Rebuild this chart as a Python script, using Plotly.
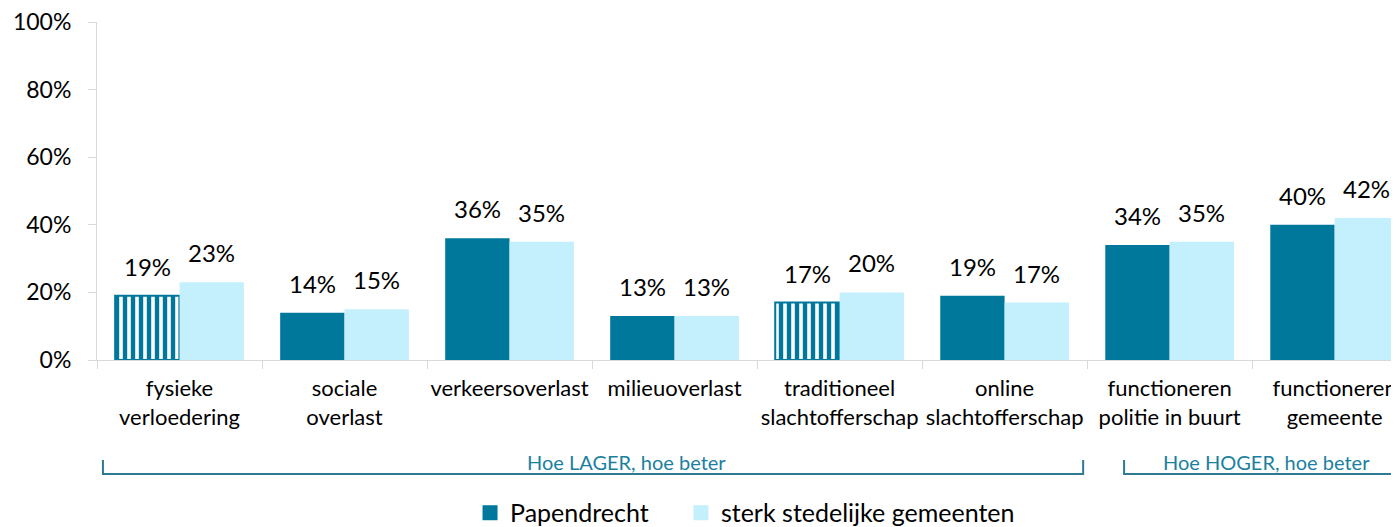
import plotly.graph_objects as go

categories = ["fysieke<br>verloedering", "sociale<br>overlast", "verkeersoverlast", "milieuoverlast",
              "traditioneel<br>slachtofferschap", "online<br>slachtofferschap",
              "functioneren<br>politie in buurt", "functioneren<br>gemeente"]
papendrecht = [19, 14, 36, 13, 17, 19, 34, 40]
sterk = [23, 15, 35, 13, 20, 17, 35, 42]
hatched = [True, False, False, False, True, False, False, False]
series_names = ["Papendrecht", "sterk stedelijke gemeenten"]
ytick_vals = [0, 20, 40, 60, 80, 100]

DARK = "#00789c"
LIGHT = "#c4effd"
TEAL = "#1b7fa0"
FONT = "Lato, Carlito, 'Noto Sans', sans-serif"
BAR_W = 0.39  # width of one bar in category units (1 - bargap) / 2

fig = go.Figure()
fig.add_trace(go.Bar(
    x=categories, y=papendrecht, name=series_names[0], showlegend=False,
    marker=dict(color=DARK,
                line=dict(color=DARK, width=[2 if h else 0 for h in hatched]),
                pattern=dict(shape=[("|" if h else "") for h in hatched],
                             fgcolor=DARK, bgcolor="white", fillmode="replace",
                             size=8, solidity=0.55)),
))
fig.add_trace(go.Bar(
    x=categories, y=sterk, name=series_names[1], showlegend=False,
    marker=dict(color=LIGHT, line=dict(width=0)),
))
# value labels above the bars
for s, vals in enumerate([papendrecht, sterk]):
    off = (-0.5 + s) * BAR_W
    for i, v in enumerate(vals):
        fig.add_annotation(x=i + off, y=v, xref="x", yref="y", text=f"{v}%",
                           showarrow=False, yanchor="bottom", yshift=13,
                           font=dict(size=24, color="black", family=FONT))

# legend entries, each in its own legend box
legend_x = [0.2865, 0.4485]
for i, (nm, col) in enumerate(zip(series_names, [DARK, LIGHT])):
    fig.add_trace(go.Scatter(x=[None], y=[None], mode="markers", name=nm,
                             legend="legend" if i == 0 else "legend2",
                             marker=dict(symbol="square", size=15, color=col)))

# brackets (category-index coordinates on x, paper on y)
brackets = [(-0.464, 5.476, 2.706, "Hoe LAGER, hoe beter"),
            (5.724, 7.445, 6.585, "Hoe HOGER, hoe beter")]
for x0, x1, xt, label in brackets:
    fig.add_shape(type="path", xref="x", yref="paper",
                  path=f"M {x0},-0.296 L {x0},-0.337 L {x1},-0.337 L {x1},-0.296",
                  line=dict(color="#2f7a93", width=2))
    fig.add_annotation(x=xt, y=-0.301, xref="x", yref="paper", text=label,
                       showarrow=False, yanchor="middle",
                       font=dict(size=20, color=TEAL, family=FONT))

leg_common = dict(orientation="h", yref="container", y=0.027, yanchor="middle",
                  xanchor="left", font=dict(size=25, family=FONT), bgcolor="rgba(0,0,0,0)")
fig.update_layout(
    width=1391, height=519,
    margin=dict(l=89, r=0, t=14, b=167, autoexpand=False),
    plot_bgcolor="white", paper_bgcolor="white",
    barmode="group", bargap=0.22, bargroupgap=0,
    font=dict(family=FONT, color="black"),
    legend=dict(x=legend_x[0], **leg_common),
    legend2=dict(x=legend_x[1], **leg_common),
)
fig.update_xaxes(range=[-0.5, 7.39], showline=True, linecolor="#d9d9d9", linewidth=1,
                 ticks="outside", tickson="boundaries", ticklen=8, tickcolor="#d9d9d9",
                 tickangle=0, tickfont=dict(size=22, family=FONT), showgrid=False,
                 automargin=False, ticklabelstandoff=9)
fig.update_yaxes(range=[0, 100], tickvals=ytick_vals, ticktext=[f"{v}%" for v in ytick_vals],
                 showline=True, linecolor="#d9d9d9", linewidth=1, ticks="outside", ticklen=8,
                 tickcolor="#d9d9d9", tickfont=dict(size=23, family=FONT), showgrid=False,
                 zeroline=False, automargin=False, ticklabelstandoff=12,
                 ticklabeloverflow="allow")

fig.write_html("out.html")
